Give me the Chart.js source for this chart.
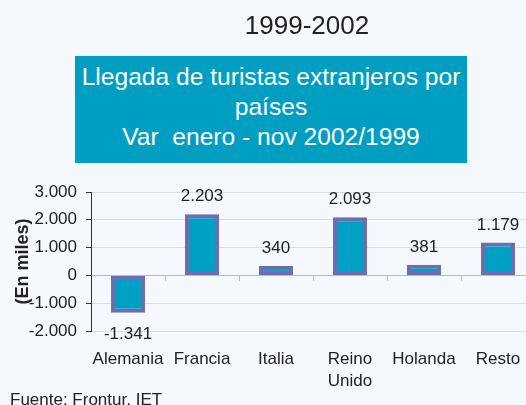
<!DOCTYPE html>
<html><head><meta charset="utf-8">
<script src="https://cdn.jsdelivr.net/npm/chart.js@4/dist/chart.umd.min.js"></script>
<style>
html,body{margin:0;padding:0;}
body{width:526px;height:405px;overflow:hidden;background:#f5f9fd;position:relative;font-family:"Liberation Sans",Arial,sans-serif;color:#222;}
#title{position:absolute;left:0;width:614px;top:8px;text-align:center;font-size:26px;line-height:34px;color:#222;}
#box{position:absolute;left:75px;top:56px;width:392px;height:107px;background:#009fc2;color:#fff;text-align:center;font-size:24.6px;line-height:30px;padding-top:6px;box-sizing:border-box;white-space:pre;}
#src{position:absolute;left:10px;top:389px;font-size:17px;line-height:22px;color:#222;}
#wrap{position:absolute;left:0;top:0;width:540px;height:405px;}
</style></head>
<body>
<div id="wrap"><canvas id="c"></canvas></div>
<div id="title">1999-2002</div>
<div id="box">Llegada de turistas extranjeros por
países
Var  enero - nov 2002/1999</div>
<div id="src">Fuente: Frontur, IET</div>
<script>
const categories = ['Alemania', 'Francia', 'Italia', ['Reino', 'Unido'], 'Holanda', 'Resto'];
const variation = [-1341, 2203, 340, 2093, 381, 1179];
const yTicks = [-2000, -1000, 0, 1000, 2000, 3000];

function fmt(v) {
  const s = Math.abs(v).toString().replace(/\B(?=(\d{3})+(?!\d))/g, '.');
  return (v < 0 ? '-' : '') + s;
}

const FONT = '"Liberation Sans", Arial, sans-serif';

const valueLabels = {
  id: 'valueLabels',
  afterDatasetsDraw(chart) {
    const ctx = chart.ctx;
    const meta = chart.getDatasetMeta(0);
    ctx.save();
    ctx.font = '17px ' + FONT;
    ctx.fillStyle = '#222';
    ctx.textAlign = 'center';
    ctx.textBaseline = 'alphabetic';
    meta.data.forEach((bar, i) => {
      const v = chart.data.datasets[0].data[i];
      if (v >= 0) {
        ctx.fillText(fmt(v), bar.x, bar.y - 13);
      } else {
        ctx.fillText(fmt(v), bar.x, bar.y + 26);
      }
    });
    ctx.restore();
  }
};

new Chart(document.getElementById('c'), {
  type: 'bar',
  data: {
    labels: categories,
    datasets: [{
      data: variation,
      backgroundColor: '#009fc4',
      borderColor: '#6c6eb0',
      borderWidth: 4,
      borderSkipped: false,
      barPercentage: 0.46,
      categoryPercentage: 1.0
    }]
  },
  options: {
    responsive: true,
    maintainAspectRatio: false,
    animation: false,
    devicePixelRatio: 1,
    layout: { padding: { top: 192, right: 5, bottom: 0, left: 0 } },
    plugins: { legend: { display: false }, tooltip: { enabled: false } },
    scales: {
      x: {
        type: 'category',
        position: 'bottom',
        offset: true,
        grid: { display: false, drawTicks: false },
        border: { display: false },
        ticks: { color: '#222', font: { family: FONT, size: 17, lineHeight: 1.3 }, padding: 17, maxRotation: 0, autoSkip: false },
        afterFit(s) { s.height = 74; }
      },
      x0: {
        type: 'category',
        position: { y: 0 },
        offset: true,
        grid: { offset: true, drawOnChartArea: false, drawTicks: true, tickLength: 5, color: '#b9bec2' },
        border: { display: true, color: '#b9bec2', width: 1 },
        ticks: { display: false }
      },
      y: {
        min: -2000,
        max: 3000,
        afterBuildTicks(s) { s.ticks = yTicks.map(v => ({ value: v })); },
        grid: { color: '#d9dde1', tickColor: '#333', tickLength: 5 },
        border: { display: true, color: '#333', width: 1 },
        ticks: { color: '#222', font: { family: FONT, size: 17 }, padding: 9, callback: v => fmt(v) },
        title: { display: true, text: '(En miles)', color: '#222', font: { family: FONT, size: 18, weight: 'bold' }, padding: { top: 12, bottom: 0 } },
        afterFit(s) { s.width = 91; }
      }
    }
  },
  plugins: [valueLabels]
});
</script>
</body></html>
